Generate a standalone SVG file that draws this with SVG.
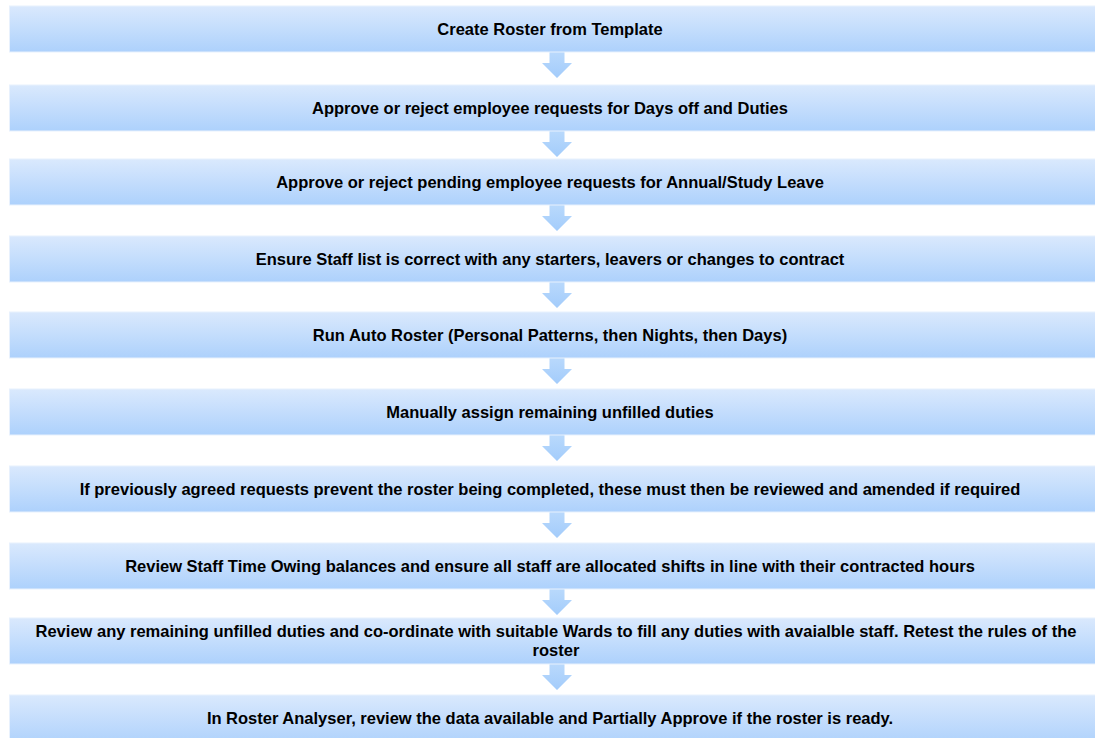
<svg xmlns="http://www.w3.org/2000/svg" width="1095" height="738" viewBox="0 0 1095 738">
<defs>
<linearGradient id="g" x1="0" y1="0" x2="0" y2="1">
<stop offset="0" stop-color="#DAE9FD"/>
<stop offset="1" stop-color="#ADD1FC"/>
</linearGradient>
<linearGradient id="ga" x1="0" y1="0" x2="0" y2="1">
<stop offset="0" stop-color="#B9D9FC"/>
<stop offset="1" stop-color="#A3CCFB"/>
</linearGradient>
<path id="arr" d="M-7.5,0 H7.5 V11 H15 L0,26 L-15,11 H-7.5 Z"/>
</defs>
<style>
.box{fill:url(#g);stroke:#E8F1FD;stroke-width:1}
.t{font-family:"Liberation Sans",Arial,sans-serif;font-weight:bold;font-size:16.5px;fill:#000;text-anchor:middle}
.a{fill:url(#ga)}
</style>
<rect width="1095" height="738" fill="#fff"/>
<g id="connectors">
<use href="#arr" class="a" x="557" y="52"/>
<use href="#arr" class="a" x="557" y="131"/>
<use href="#arr" class="a" x="557" y="205"/>
<use href="#arr" class="a" x="557" y="282"/>
<use href="#arr" class="a" x="557" y="358"/>
<use href="#arr" class="a" x="557" y="435"/>
<use href="#arr" class="a" x="557" y="512"/>
<use href="#arr" class="a" x="557" y="589"/>
<use href="#arr" class="a" x="557" y="664"/>
</g>
<g id="n1"><rect class="box" x="9.5" y="6" width="1100" height="46"/><text class="t" x="550" y="35">Create Roster from Template</text></g>
<g id="n2"><rect class="box" x="9.5" y="85" width="1100" height="46"/><text class="t" x="550" y="114">Approve or reject employee requests for Days off and Duties</text></g>
<g id="n3"><rect class="box" x="9.5" y="159" width="1100" height="46"/><text class="t" x="550" y="188">Approve or reject pending employee requests for Annual/Study Leave</text></g>
<g id="n4"><rect class="box" x="9.5" y="236" width="1100" height="46"/><text class="t" x="550" y="265">Ensure Staff list is correct with any starters, leavers or changes to contract</text></g>
<g id="n5"><rect class="box" x="9.5" y="312" width="1100" height="46"/><text class="t" x="550" y="341">Run Auto Roster (Personal Patterns, then Nights, then Days)</text></g>
<g id="n6"><rect class="box" x="9.5" y="389" width="1100" height="46"/><text class="t" x="550" y="418">Manually assign remaining unfilled duties</text></g>
<g id="n7"><rect class="box" x="9.5" y="466" width="1100" height="46"/><text class="t" x="550" y="495">If previously agreed requests prevent the roster being completed, these must then be reviewed and amended if required</text></g>
<g id="n8"><rect class="box" x="9.5" y="543" width="1100" height="46"/><text class="t" x="550" y="572">Review Staff Time Owing balances and ensure all staff are allocated shifts in line with their contracted hours</text></g>
<g id="n9"><rect class="box" x="9.5" y="618" width="1100" height="46"/><text class="t" x="556" y="637">Review any remaining unfilled duties and co-ordinate with suitable Wards to fill any duties with avaialble staff. Retest the rules of the</text><text class="t" x="556" y="656">roster</text></g>
<g id="n10"><rect class="box" x="9.5" y="695" width="1100" height="50"/><text class="t" x="550" y="724">In Roster Analyser, review the data available and Partially Approve if the roster is ready.</text></g>
</svg>
